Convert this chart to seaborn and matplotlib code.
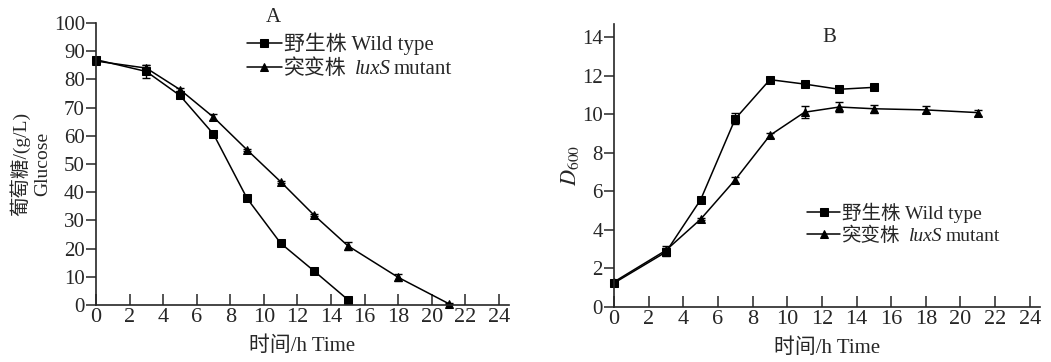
import numpy as np
import pandas as pd
import seaborn as sns
import matplotlib.pyplot as plt

sns.set_theme(style='ticks')
plt.rcParams['font.family'] = ['Liberation Serif', 'Noto Sans CJK SC']
plt.rcParams['mathtext.fontset'] = 'stix'

# Panel A: glucose (g/L)
t_wt = [0, 3, 5, 7, 9, 11, 13, 15]
t_mut = [0, 3, 5, 7, 9, 11, 13, 15, 18, 21]
glu_wt = [87.0, 82.8, 74.3, 60.6, 37.8, 21.9, 12.0, 1.9]
glu_wt_err = [0.8, 2.3, 1.0, 0.5, 0.5, 0.5, 0.8, 0.3]
glu_mut = [86.5, 84.0, 76.4, 66.6, 55.0, 43.7, 31.8, 21.0, 9.8, 0.5]
glu_mut_err = [0.5, 1.0, 0.5, 1.0, 0.4, 0.4, 0.4, 1.5, 1.2, 0.2]

# Panel B: D600
od_wt = [1.24, 2.85, 5.56, 9.76, 11.79, 11.56, 11.29, 11.39]
od_wt_err = [0.1, 0.2, 0.05, 0.28, 0.05, 0.05, 0.05, 0.05]
od_mut = [1.30, 2.94, 4.55, 6.60, 8.90, 10.10, 10.37, 10.28, 10.22, 10.08]
od_mut_err = [0.1, 0.22, 0.05, 0.15, 0.12, 0.32, 0.28, 0.22, 0.18, 0.15]

df_wt = pd.DataFrame({'t': t_wt, 'glu': glu_wt, 'glu_err': glu_wt_err, 'od': od_wt, 'od_err': od_wt_err})
df_mut = pd.DataFrame({'t': t_mut, 'glu': glu_mut, 'glu_err': glu_mut_err, 'od': od_mut, 'od_err': od_mut_err})

fig = plt.figure(figsize=(10.51, 3.62), dpi=100)
axA = fig.add_axes([0.0913, 0.1575, 0.393, 0.779])
axB = fig.add_axes([0.5842, 0.152, 0.4055, 0.783])

legends = []


def draw_panel(ax, col, leg_fs, leg_loc):
    sns.lineplot(data=df_wt, x='t', y=col, ax=ax, color='black', marker='s', markersize=6,
                 linewidth=1.1, markeredgecolor='black', label='野生株 Wild type')
    sns.lineplot(data=df_mut, x='t', y=col, ax=ax, color='black', marker='^', markersize=6,
                 linewidth=1.1, markeredgecolor='black', label='突变株')
    for d in (df_wt, df_mut):
        ax.errorbar(d['t'], d[col], yerr=d[col + '_err'], fmt='none', ecolor='black',
                    elinewidth=1.0, capsize=3, capthick=1.0, clip_on=False)
    for ln in ax.lines:
        ln.set_clip_on(False)
    leg = ax.legend(loc='upper left', bbox_to_anchor=leg_loc, frameon=False, fontsize=leg_fs,
                    handlelength=1.7, handletextpad=0.1, labelspacing=0.2, borderaxespad=0)
    legends.append((leg, leg_fs))
    sns.despine(ax=ax)
    ax.spines['left'].set_linewidth(1.2)
    ax.spines['bottom'].set_linewidth(1.2)
    ax.set_xlim(0, 24.6)
    ax.set_xticks(np.arange(0, 25, 2))
    ax.tick_params(axis='x', direction='in', length=8, width=1.1, labelsize=16, pad=2)
    ax.tick_params(axis='y', direction='out', length=7, width=1.1, labelsize=15, pad=1)
    ax.set_xlabel('时间/h Time', fontsize=15, labelpad=7)


draw_panel(axA, 'glu', 15, (0.345, 0.995))
axA.set_ylim(0, 100)
axA.set_yticks(np.arange(0, 101, 10))
axA.set_ylabel('葡萄糖/(g/L)\nGlucose', fontsize=14, labelpad=2, linespacing=1.25)
axA.text(0.43, 1.02, 'A', transform=axA.transAxes, fontsize=15, ha='center', va='center')

draw_panel(axB, 'od', 14, (0.435, 0.395))
axB.set_ylim(0, 14.7)
axB.set_yticks(np.arange(0, 15, 2))
axB.set_ylabel('$D_{600}$', fontsize=16, labelpad=1)
axB.text(0.505, 0.95, 'B', transform=axB.transAxes, fontsize=15, ha='center', va='center')

# italic gene name after the mutant legend label
fig.canvas.draw()
for leg, fs in legends:
    bb = leg.get_texts()[1].get_window_extent()
    a1 = fig.text(bb.x1 + 8, bb.y0, 'luxS', transform=None, fontsize=fs, style='italic',
                  va='bottom', ha='left', family='Liberation Serif')
    bb1 = a1.get_window_extent(renderer=fig.canvas.get_renderer())
    fig.text(bb1.x1 + 3, bb.y0, 'mutant', transform=None, fontsize=fs,
             va='bottom', ha='left', family='Liberation Serif')

fig.savefig('out.png', dpi=100)
